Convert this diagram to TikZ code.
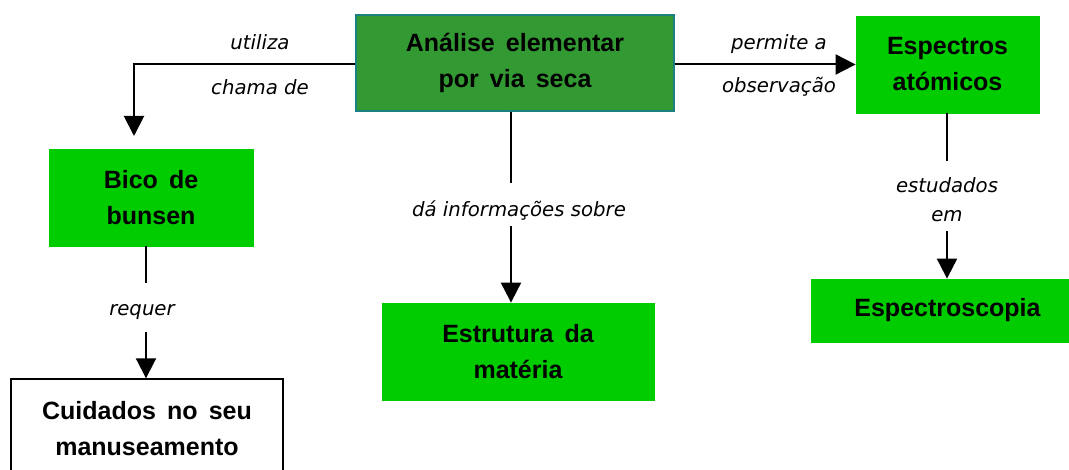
\documentclass[tikz,border=0pt]{standalone}
\usepackage{fontspec}
\setmainfont{Liberation Sans}[WordSpace=1.6]
\newfontfamily\lblfont{DejaVu Sans}
\usetikzlibrary{arrows.meta}
\definecolor{brightgreen}{RGB}{0,204,0}
\definecolor{darkgreen}{RGB}{51,153,51}
\definecolor{tealborder}{RGB}{26,128,128}
\begin{document}
\begin{tikzpicture}[x=1pt,y=-1pt,
  concept/.style={rectangle, fill=brightgreen, draw=brightgreen, line width=0.8pt, align=center,
    font=\fontsize{25}{36}\selectfont\bfseries, inner sep=0pt},
  link/.style={draw=black, line width=2pt},
  arr/.style={link, -{Triangle[width=20pt,length=20pt]}},
  lbl/.style={font=\lblfont\itshape\fontsize{19.7}{24}\selectfont, inner sep=0pt, anchor=base}
]
\useasboundingbox (0,0) rectangle (1069,470);

% concept nodes
\node[concept, fill=darkgreen, draw=tealborder, line width=1.2pt, minimum width=318pt, minimum height=96pt] (ana) at (515,63) {Análise elementar\\por via seca};
\node[concept, minimum width=204pt, minimum height=97pt] (bico) at (151,197.5) {Bico de\\bunsen};
\node[concept, fill=white, draw=black, line width=1.4pt, minimum width=272pt, minimum height=100pt] (cuid) at (147,429) {Cuidados no seu\\manuseamento};
\node[concept, minimum width=272pt, minimum height=97pt] (estr) at (518,351.5) {Estrutura da\\matéria};
\node[concept, minimum width=183pt, minimum height=97pt] (esp) at (947.5,64.5) {Espectros\\atómicos};
\node[concept, minimum width=273pt, minimum height=63pt] (spec) at (947.5,310.5) {Espectroscopia};

% helper coordinates
\coordinate (tipL) at (134,136);
\coordinate (r1) at (146,283);
\coordinate (r2) at (146,332);
\coordinate (c1) at (511,183);
\coordinate (c2) at (511,226);
\coordinate (e1) at (947,161.5);
\coordinate (e2) at (947,231.5);

% connectors
\draw[arr] ([yshift=-1.5pt]ana.west) -| (tipL);
\draw[arr] ([yshift=-1.5pt]ana.east) -- (esp.west);
\draw[link] (bico.south -| r1) -- (r1);
\draw[arr] (r2) -- (cuid.north -| r2);
\draw[link] (ana.south -| c1) -- (c1);
\draw[arr] (c2) -- (estr.north -| c2);
\draw[link] (esp.south -| e1) -- (e1);
\draw[arr] (e2) -- (spec.north -| e2);

% labels
\node[lbl] (lut) at (260,50) {utiliza};
\node[lbl] (lch) at (260,95) {chama de};
\node[lbl] (lpe) at (779,50) {permite a};
\node[lbl] (lob) at (779,93) {observação};
\node[lbl] (lre) at (142,316) {requer};
\node[lbl] (ldi) at (519,216.5) {dá informações sobre};
\node[lbl] (les) at (947,193) {estudados};
\node[lbl] (lem) at (947,221.5) {em};
\end{tikzpicture}
\end{document}
